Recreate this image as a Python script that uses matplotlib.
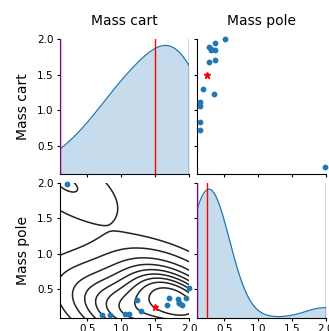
import numpy as np
import matplotlib
matplotlib.use("Agg")
import matplotlib.pyplot as plt

# posterior samples (mass cart, mass pole)
mass_cart = [0.20, 0.72, 0.83, 1.06, 1.12, 1.23, 1.29, 1.68, 1.70, 1.84, 1.86, 1.89, 1.85, 1.95, 2.00]
mass_pole = [1.98, 0.14, 0.14, 0.15, 0.15, 0.35, 0.19, 0.27, 0.37, 0.36, 0.31, 0.28, 0.30, 0.37, 0.51]
true_vals = [1.5, 0.25]
bounds = [0.1, 2.0]
names = ["Mass cart", "Mass pole"]
ticks = [0.5, 1.0, 1.5, 2.0]

samples = np.array([mass_cart, mass_pole])

# kde bandwidths
bw_diag = [0.45, 0.28]
bw_2d = [0.5, 0.35]
rho_2d = -0.6


def gauss_kde(data, pts, cov):
    # data: (d, n), pts: (d, m)
    n = data.shape[1]
    cov = np.atleast_2d(cov)
    inv = np.linalg.inv(cov)
    norm = 1.0 / np.sqrt(np.linalg.det(2 * np.pi * cov))
    diff = pts[:, :, None] - data[:, None, :]
    q = np.einsum("imn,ij,jmn->mn", diff, inv, diff)
    return norm * np.exp(-0.5 * q).sum(axis=1) / n


fig = plt.figure(figsize=(3.29, 3.31), dpi=100)
W = 129 / 329
lefts = [60 / 329, 197 / 329]
bottoms = [(331 - 174) / 331, (331 - 317.5) / 331]
heights = [135 / 331, 134.8 / 331]

axes = [[None, None], [None, None]]
for r in range(2):
    for c in range(2):
        ax = fig.add_axes([lefts[c], bottoms[r], W, heights[r]])
        ax.set_xlim(bounds)
        ax.set_ylim(bounds)
        ax.set_xticks(ticks)
        ax.set_yticks(ticks)
        ax.spines["top"].set_visible(False)
        ax.spines["right"].set_visible(False)
        ax.tick_params(labelsize=7.5, length=2.5, width=0.8, pad=2)
        if c != 0:
            ax.tick_params(labelleft=False)
        if r != 1:
            ax.tick_params(labelbottom=False)
        axes[r][c] = ax

axes[0][0].set_ylabel(names[0], fontsize=10, labelpad=5)
axes[1][0].set_ylabel(names[1], fontsize=10, labelpad=5)
axes[0][0].set_title(names[0], fontsize=10, pad=10)
axes[0][1].set_title(names[1], fontsize=10, pad=10)

# diagonal kde
xs = np.linspace(bounds[0], bounds[1], 300)
for i in range(2):
    ax = axes[i][i]
    tw = ax.twinx()
    dens = gauss_kde(samples[i:i + 1], xs[None, :], bw_diag[i] ** 2)
    tw.plot(xs, dens, color="C0", lw=0.9)
    tw.fill_between(xs, 0, dens, color="C0", alpha=0.25, lw=0)
    tw.set_ylim(0, dens.max() * 1.05)
    tw.set_yticks([])
    for s in tw.spines.values():
        s.set_visible(False)
    for b in bounds:
        tw.axvline(b, color="purple", lw=1)
    tw.axvline(true_vals[i], color="red", lw=1)

# upper: scatter
ax = axes[0][1]
ax.scatter(mass_pole, mass_cart, s=10, color="C0", zorder=3, clip_on=False)
ax.plot(true_vals[1], true_vals[0], "*", color="red", ms=5, zorder=4)

# lower: kde contours (iso-proportion levels)
ax = axes[1][0]
g = np.linspace(-1.5, 3.6, 260)
gx, gy = np.meshgrid(g, g)
pts = np.vstack([gx.ravel(), gy.ravel()])
hx, hy = bw_2d
cov2 = np.array([[hx * hx, rho_2d * hx * hy], [rho_2d * hx * hy, hy * hy]])
dens2 = gauss_kde(samples, pts, cov2).reshape(gx.shape)
vals = np.sort(dens2.ravel())[::-1]
cum = np.cumsum(vals) / vals.sum()
props = np.linspace(0.05, 1, 10)
levels = np.unique(np.take(vals, np.searchsorted(cum, 1 - props), mode="clip"))
ax.contour(gx, gy, dens2, levels=levels, colors="#222222", linewidths=1.1)
ax.scatter(mass_cart, mass_pole, s=10, color="C0", zorder=3, clip_on=False)
ax.plot(true_vals[0], true_vals[1], "*", color="red", ms=5, zorder=4)

fig.savefig("out.png", dpi=100)
